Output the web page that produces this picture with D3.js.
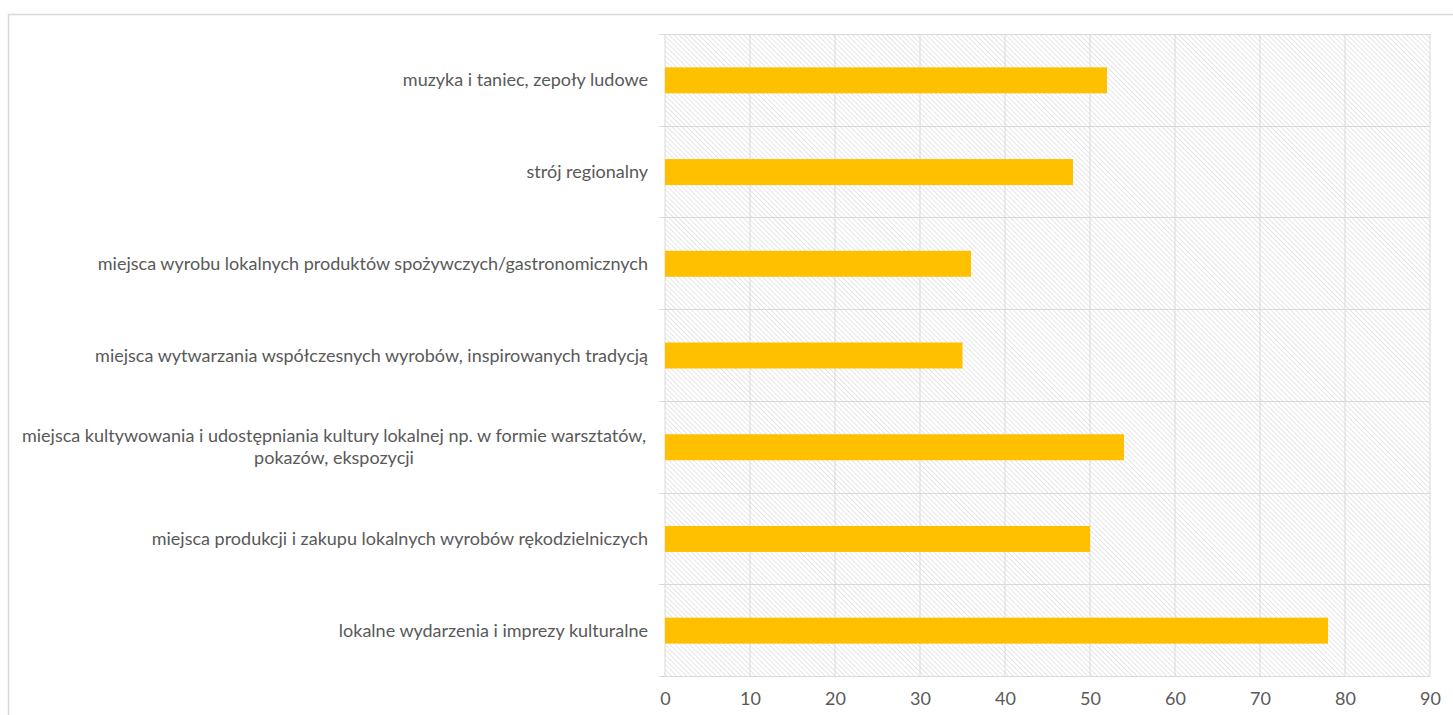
<!DOCTYPE html>
<html>
<head>
<meta charset="utf-8">
<title>Bar chart</title>
<script src="https://cdn.jsdelivr.net/npm/d3@7"></script>
<style>
  body { margin: 0; background: #fff; font-family: Lato, "Open Sans", sans-serif; }
  .cat text, .xax text { fill: #595959; }
</style>
</head>
<body>
<div id="chart"></div>
<script>
// categories, top to bottom
const categories = [
  "muzyka i taniec, zepoły ludowe",
  "strój regionalny",
  "miejsca wyrobu lokalnych produktów spożywczych/gastronomicznych",
  "miejsca wytwarzania współczesnych wyrobów, inspirowanych tradycją",
  "miejsca kultywowania i udostępniania kultury lokalnej np. w formie warsztatów,|pokazów, ekspozycji",
  "miejsca produkcji i zakupu lokalnych wyrobów rękodzielniczych",
  "lokalne wydarzenia i imprezy kulturalne"
];
const values = [52, 48, 36, 35, 54, 50, 78];
const xTicks = [0, 10, 20, 30, 40, 50, 60, 70, 80, 90];

const W = 1453, H = 715;
const mLeft = 665, mRight = 1430, mTop = 34, mBottom = 676;

const svg = d3.select("#chart").append("svg")
  .attr("width", W).attr("height", H);

// hatch pattern for plot background
const pat = svg.append("defs").append("pattern")
  .attr("id", "hatch")
  .attr("patternUnits", "userSpaceOnUse")
  .attr("width", 3.5).attr("height", 3.5)
  .attr("patternTransform", "rotate(-45)");
pat.append("rect").attr("width", 3.5).attr("height", 3.5).attr("fill", "#fff");
pat.append("line").attr("x1", 0).attr("y1", 0).attr("x2", 0).attr("y2", 3.5)
  .attr("stroke", "#d6d6d6").attr("stroke-width", 1.2);

// outer chart border
svg.append("rect")
  .attr("x", 8.5).attr("y", 14.5)
  .attr("width", W + 20).attr("height", H + 20)
  .attr("fill", "none").attr("stroke", "#d9d9d9").attr("stroke-width", 1.5);

const x = d3.scaleLinear().domain([0, 90]).range([mLeft, mRight]);
const y = d3.scaleBand().domain(categories).range([mTop, mBottom]).paddingInner(0).paddingOuter(0);

svg.append("rect")
  .attr("x", mLeft).attr("y", mTop)
  .attr("width", mRight - mLeft).attr("height", mBottom - mTop)
  .attr("fill", "url(#hatch)");

// vertical gridlines
svg.append("g").selectAll("line").data(xTicks).join("line")
  .attr("x1", d => x(d)).attr("x2", d => x(d))
  .attr("y1", mTop).attr("y2", mBottom)
  .attr("stroke", "#d9d9d9").attr("stroke-width", 1);

// horizontal category separators (with outward tick)
const seps = categories.map(c => y(c)).concat([mBottom]);
svg.append("g").selectAll("line").data(seps).join("line")
  .attr("x1", mLeft - 6).attr("x2", mRight)
  .attr("y1", d => Math.round(d) + 0.5).attr("y2", d => Math.round(d) + 0.5)
  .attr("stroke", "#d9d9d9").attr("stroke-width", 1);

// bars
const barH = 26;
svg.append("g").selectAll("rect").data(values).join("rect")
  .attr("x", x(0))
  .attr("y", (d, i) => y(categories[i]) + y.bandwidth() / 2 - barH / 2 + 0.5)
  .attr("width", d => x(d) - x(0))
  .attr("height", barH)
  .attr("fill", "#ffc000");

// category labels
const cat = svg.append("g").attr("class", "cat");
categories.forEach(c => {
  const lines = c.split("|");
  const cy = y(c) + y.bandwidth() / 2;
  const t = cat.append("text")
    .attr("font-size", 18)
    .attr("text-anchor", lines.length > 1 ? "middle" : "end");
  const lh = 22;
  lines.forEach((ln, i) => {
    t.append("tspan")
      .attr("x", lines.length > 1 ? 334 : 648)
      .attr("y", cy + 6.5 + (i - (lines.length - 1) / 2) * lh)
      .text(ln);
  });
});

// x axis labels
svg.append("g").attr("class", "xax")
  .attr("transform", `translate(0,${mBottom})`)
  .call(d3.axisBottom(x).tickValues(xTicks).tickSize(0).tickPadding(16))
  .call(g => g.select(".domain").remove())
  .call(g => g.selectAll("text").attr("font-size", 18).attr("font-family", "Lato, sans-serif"));
</script>
</body>
</html>
